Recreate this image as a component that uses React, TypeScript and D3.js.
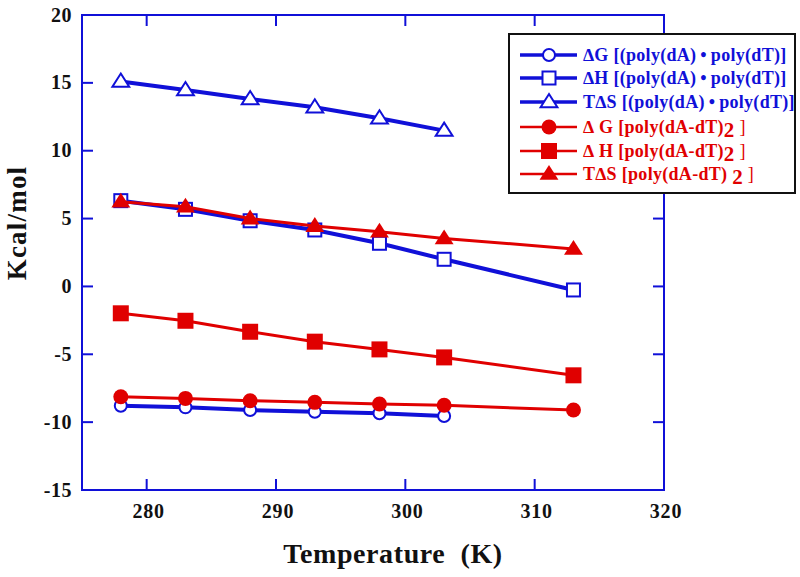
import React from "react";
import * as d3 from "d3";

const tempsA = [278, 283, 288, 293, 298, 303];
const tempsB = [278, 283, 288, 293, 298, 303, 313];
const blueDG = [-8.79, -8.91, -9.11, -9.23, -9.35, -9.55];
const blueDH = [6.32, 5.68, 4.84, 4.16, 3.18, 2.0, -0.26];
const blueTDS = [15.1, 14.47, 13.81, 13.2, 12.39, 11.48];
const redDG = [-8.13, -8.25, -8.42, -8.54, -8.66, -8.76, -9.11];
const redDH = [-1.98, -2.53, -3.34, -4.07, -4.64, -5.23, -6.55];
const redTDS = [6.24, 5.87, 5.0, 4.45, 4.03, 3.54, 2.76];
const xTicks = [280, 290, 300, 310, 320];
const yTicks = [-15, -10, -5, 0, 5, 10, 15, 20];
const labels = [
  "∆G [(poly(dA)\u2009•\u2009poly(dT)]",
  "∆H [(poly(dA)\u2009•\u2009poly(dT)]",
  "T∆S [(poly(dA)\u2009•\u2009poly(dT)]",
  "∆ G [poly(dA-dT)",
  "∆ H [poly(dA-dT)",
  "T∆S [poly(dA-dT) ",
];

const BLUE = "#1010d8";
const RED = "#e00000";
const FONT = "'Liberation Serif', 'Times New Roman', serif";

type Shape = "circle" | "square" | "triangle";
type Series = { temps: number[]; vals: number[]; color: string; shape: Shape; filled: boolean; width: number; sub: boolean };

const series: Series[] = [
  { temps: tempsA, vals: blueDG, color: BLUE, shape: "circle", filled: false, width: 4, sub: false },
  { temps: tempsB, vals: blueDH, color: BLUE, shape: "square", filled: false, width: 4, sub: false },
  { temps: tempsA, vals: blueTDS, color: BLUE, shape: "triangle", filled: false, width: 4, sub: false },
  { temps: tempsB, vals: redDG, color: RED, shape: "circle", filled: true, width: 3, sub: true },
  { temps: tempsB, vals: redDH, color: RED, shape: "square", filled: true, width: 3, sub: true },
  { temps: tempsB, vals: redTDS, color: RED, shape: "triangle", filled: true, width: 3, sub: true },
];

function Marker({ x, y, s }: { x: number; y: number; s: Series }) {
  const fill = s.filled ? s.color : "white";
  const sw = s.filled ? 0 : 2;
  if (s.shape === "circle") {
    const r = s.filled ? 7.5 : 6;
    return <circle cx={x} cy={y} r={r} fill={fill} stroke={s.color} strokeWidth={sw} />;
  }
  if (s.shape === "square") {
    const h = s.filled ? 8 : 6.5;
    return <rect x={x - h} y={y - h} width={2 * h} height={2 * h} fill={fill} stroke={s.color} strokeWidth={sw} />;
  }
  const h = s.filled ? 9 : 8;
  const pts = `${x},${y - h} ${x + h * 1.05},${y + h * 0.65} ${x - h * 1.05},${y + h * 0.65}`;
  return <polygon points={pts} fill={fill} stroke={s.color} strokeWidth={sw} strokeLinejoin="miter" />;
}

export default function App() {
  const W = 800, H = 577;
  const L = 82, R = 664, T = 15, B = 490;
  const x = d3.scaleLinear().domain([275, 320]).range([L, R]);
  const y = d3.scaleLinear().domain([-15, 20]).range([B, T]);
  const line = d3.line<[number, number]>().x(d => x(d[0])).y(d => y(d[1]));
  const tk = 11;

  const legX = 509, legY = 34, legW = 286, legH = 159;
  const rowYs = [55, 78, 102, 127, 151, 174];

  return (
    <svg width={W} height={H} style={{ position: "absolute", left: 0, top: 0 }} fontFamily={FONT}>
      <rect width={W} height={H} fill="white" />
      <rect x={L} y={T} width={R - L} height={B - T} fill="none" stroke={BLUE} strokeWidth={2} />
      {xTicks.map(t => (
        <g key={"x" + t}>
          <line x1={x(t)} x2={x(t)} y1={B} y2={B - tk} stroke={BLUE} strokeWidth={2} />
          <line x1={x(t)} x2={x(t)} y1={T} y2={T + tk} stroke={BLUE} strokeWidth={2} />
          <text x={x(t) + 2} y={518} textAnchor="middle" fontSize={20} letterSpacing={0.8} fontWeight="bold" fill="#111">{t}</text>
        </g>
      ))}
      {yTicks.map(t => (
        <g key={"y" + t}>
          <line x1={L} x2={L + tk} y1={y(t)} y2={y(t)} stroke={BLUE} strokeWidth={2} />
          <line x1={R} x2={R - tk} y1={y(t)} y2={y(t)} stroke={BLUE} strokeWidth={2} />
          <text x={72} y={y(t) + 6.5} textAnchor="end" fontSize={20} letterSpacing={0.5} fontWeight="bold" fill="#111">{t}</text>
        </g>
      ))}
      <text x={393} y={563} textAnchor="middle" fontSize={28} letterSpacing={0.6} fontWeight="bold" fill="#111" style={{ whiteSpace: "pre" }}>{"Temperature  (K)"}</text>
      <text transform={`translate(26,223) rotate(-90)`} textAnchor="middle" fontSize={27} letterSpacing={1.2} fontWeight="bold" fill="#111">Kcal/mol</text>

      {series.map((s, i) => (
        <g key={"s" + i}>
          <path d={line(s.temps.map((t, j) => [t, s.vals[j]] as [number, number])) || ""} fill="none" stroke={s.color} strokeWidth={s.width} />
          {s.temps.map((t, j) => <Marker key={j} x={x(t)} y={y(s.vals[j])} s={s} />)}
        </g>
      ))}

      <rect x={legX} y={legY} width={legW} height={legH} fill="white" stroke="#111" strokeWidth={2} />
      {series.map((s, i) => {
        const ry = rowYs[i];
        return (
          <g key={"l" + i}>
            <line x1={520} x2={577} y1={ry} y2={ry} stroke={s.color} strokeWidth={s.width - 0.5} />
            <Marker x={549} y={ry} s={s} />
            <text x={583} y={ry + 6} fontSize={18} letterSpacing={0.3} fontWeight="bold" fill={s.color} style={{ whiteSpace: "pre" }}>
              {labels[i]}
              {s.sub && <tspan fontSize={21} dy={4}>2</tspan>}
              {s.sub && <tspan fontWeight="normal" dy={-4}> ]</tspan>}
            </text>
          </g>
        );
      })}
    </svg>
  );
}
